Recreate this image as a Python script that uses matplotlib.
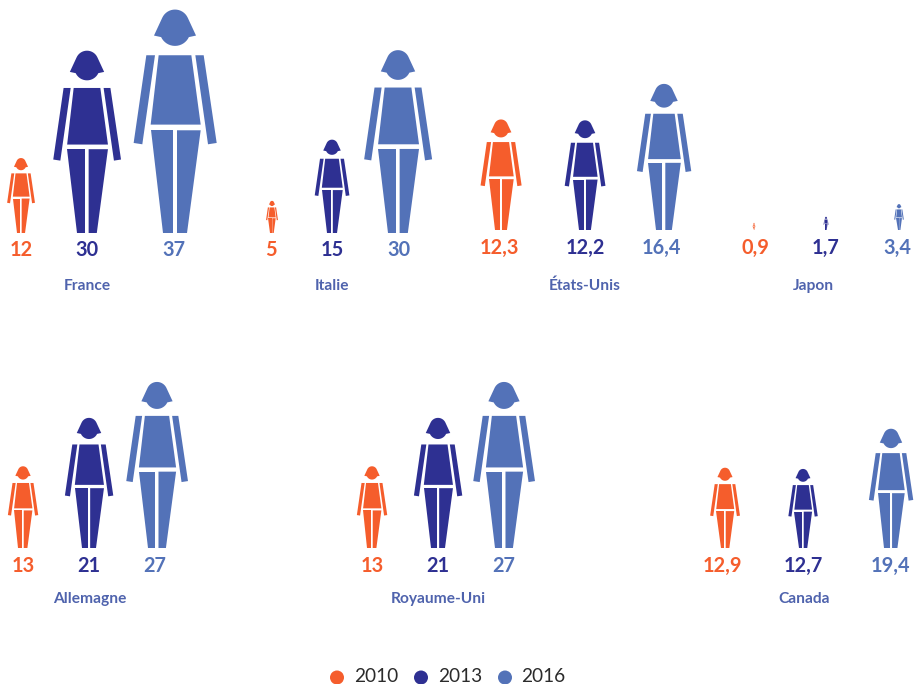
import numpy as np
import matplotlib
matplotlib.use("Agg")
import matplotlib.pyplot as plt
from matplotlib.patches import Polygon, Circle

countries = ["France", "Italie", "États-Unis", "Japon", "Allemagne", "Royaume-Uni", "Canada"]
years = ["2010", "2013", "2016"]
values_2010 = [12, 5, 12.3, 0.9, 13, 13, 12.9]
values_2013 = [30, 15, 12.2, 1.7, 21, 21, 12.7]
values_2016 = [37, 30, 16.4, 3.4, 27, 27, 19.4]
# each panel of the source has its own size scale: height = k * value ** p
panel_k = [6.73, 6.75, 9.69, 7.9, 6.79, 6.79, 6.72]
scale_power = 0.97

colors = ["#F55D2C", "#2E3092", "#5372B8"]
label_color = "#4F63AD"
legend_text = "#2B2B2B"

centers = [(21, 87, 175), (272, 332, 398), (501, 585, 664), (754, 826, 899),
           (23, 89, 157), (372, 438, 504), (725, 803, 891)]
value_x = [(21, 87, 174), (271, 332, 399), (499, 585, 661), (755, 826, 897),
           (23, 89, 155), (372, 438, 504), (722, 803, 890)]
baselines = [233, 233, 230, 230, 548, 548, 548]
name_x = [87, 332, 585, 813, 90, 438, 804]
name_y = [290, 290, 290, 290, 603, 603, 603]


def pts(seq):
    a = np.array(seq, float)
    return np.column_stack(((a[:, 0] - 134) / 670, (698 - a[:, 1]) / 670))


t = np.linspace(np.pi * 0.86, np.pi * 0.14, 17)
dome = np.column_stack((134 + 42 * np.cos(t), 70 - 42 * np.sin(t)))
t2 = np.linspace(np.pi * 1.86, np.pi * 1.14, 17)
chin = np.column_stack((134 + 46 * np.cos(t2), 91 - 46 * np.sin(t2)))
head = np.vstack(([[71, 106]], dome, [[197, 106]], chin))

SHAPES = [
    pts(head),
    pts([(85, 165), (183, 165), (211, 373), (61, 373)]),
    pts([(48, 165), (74, 165), (36, 432), (10, 428)]),
    pts([(195, 165), (220, 165), (259, 428), (233, 432)]),
    pts([(61, 390), (127, 390), (127, 698), (97, 698)]),
    pts([(140, 390), (211, 390), (170, 698), (140, 698)]),
]


def woman(ax, cx, base, height, color):
    for s in SHAPES:
        ax.add_patch(Polygon(np.column_stack((cx + s[:, 0] * height, base - s[:, 1] * height)),
                             closed=True, fc=color, ec="none"))


fig = plt.figure(figsize=(9.14, 6.84), dpi=100)
ax = fig.add_axes([0, 0, 1, 1])
ax.set_xlim(0, 914)
ax.set_ylim(684, 0)
ax.axis("off")

series = [values_2010, values_2013, values_2016]
for i, name in enumerate(countries):
    base = baselines[i]
    for j, vals in enumerate(series):
        v = vals[i]
        woman(ax, centers[i][j], base, panel_k[i] * v ** scale_power, colors[j])
        ax.text(value_x[i][j], base + 23.5, str(v).replace(".", ","), color=colors[j],
                family="Lato", weight="bold", fontsize=14.3, ha="center", va="baseline")
    ax.text(name_x[i], name_y[i], name, color=label_color, family="Lato", weight="bold",
            fontsize=11.2, ha="center", va="baseline")

for y, cx, tx, c in zip(years, (337, 421, 505), (354, 438, 521), colors):
    ax.add_patch(Circle((cx, 677.5), 7, fc=c, ec="none", clip_on=False))
    ax.text(tx, 677, y, color=legend_text, family="Lato", fontsize=13.7, ha="left", va="center")

fig.savefig("out.png", dpi=100)
